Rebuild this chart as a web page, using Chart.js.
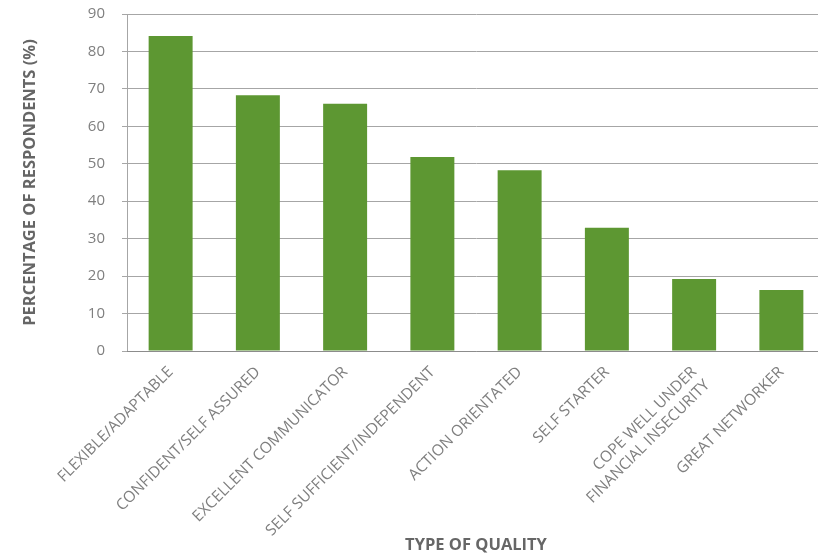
<!DOCTYPE html>
<html>
<head>
<meta charset="utf-8">
<script src="https://cdn.jsdelivr.net/npm/chart.js@4/dist/chart.umd.min.js"></script>
<style>
  html, body { margin: 0; padding: 0; overflow: hidden; background: #fff; width: 818px; height: 557px; }
  #wrap { position: absolute; left: 0; top: 0; width: 830px; height: 557px; }
</style>
</head>
<body>
<div id="wrap"><canvas id="c" width="830" height="557"></canvas></div>
<script>
const categories = [
  "FLEXIBLE/ADAPTABLE",
  "CONFIDENT/SELF ASSURED",
  "EXCELLENT COMMUNICATOR",
  "SELF SUFFICIENT/INDEPENDENT",
  "ACTION ORIENTATED",
  "SELF STARTER",
  ["COPE WELL UNDER", "FINANCIAL INSECURITY"],
  "GREAT NETWORKER"
];
const percentages = [84.1, 68.3, 66.0, 51.8, 48.3, 32.9, 19.2, 16.3];
const yTickValues = [0, 10, 20, 30, 40, 50, 60, 70, 80, 90];
const yTitle = "PERCENTAGE OF RESPONDENTS (%)";
const xTitle = "TYPE OF QUALITY";

const FONT = "'Open Sans', 'DejaVu Sans', sans-serif";

new Chart(document.getElementById('c'), {
  type: 'bar',
  data: {
    labels: categories,
    datasets: [{
      data: percentages,
      backgroundColor: '#5D9732',
      borderWidth: 0,
      categoryPercentage: 1.0,
      barPercentage: 0.504
    }]
  },
  options: {
    responsive: false,
    animation: false,
    devicePixelRatio: 1,
    layout: { padding: { left: 0, right: 5, top: 14, bottom: 0 } },
    plugins: { legend: { display: false }, tooltip: { enabled: false } },
    scales: {
      y: {
        min: 0, max: 90,
        afterBuildTicks: (s) => { s.ticks = yTickValues.map(v => ({ value: v })); },
        afterFit: (s) => { s.width = 127; s.paddingTop = 0; s.paddingBottom = 0; },
        ticks: {
          color: '#7F7F7F',
          font: { family: FONT, size: 15 },
          padding: 17
        },
        grid: {
          color: '#A6A6A6',
          lineWidth: 1,
          tickLength: 5,
          drawTicks: true
        },
        border: { display: true, color: '#A6A6A6', width: 1 },
        title: {
          display: true,
          text: yTitle,
          color: '#666666',
          font: { family: FONT, size: 16.5, weight: 'bold' },
          padding: { top: 20, bottom: 0 }
        }
      },
      x: {
        afterFit: (s) => { s.height = 206; },
        ticks: {
          color: '#7F7F7F',
          font: { family: FONT, size: 15.5 },
          maxRotation: 45,
          minRotation: 45,
          padding: 12,
          autoSkip: false
        },
        grid: { display: false, drawTicks: false },
        border: { display: true, color: '#8C8C8C', width: 1 },
        title: {
          display: true,
          text: xTitle,
          color: '#666666',
          font: { family: FONT, size: 16.5, weight: 'bold' },
          padding: { top: 0, bottom: 2 }
        }
      }
    }
  }
});
</script>
</body>
</html>
